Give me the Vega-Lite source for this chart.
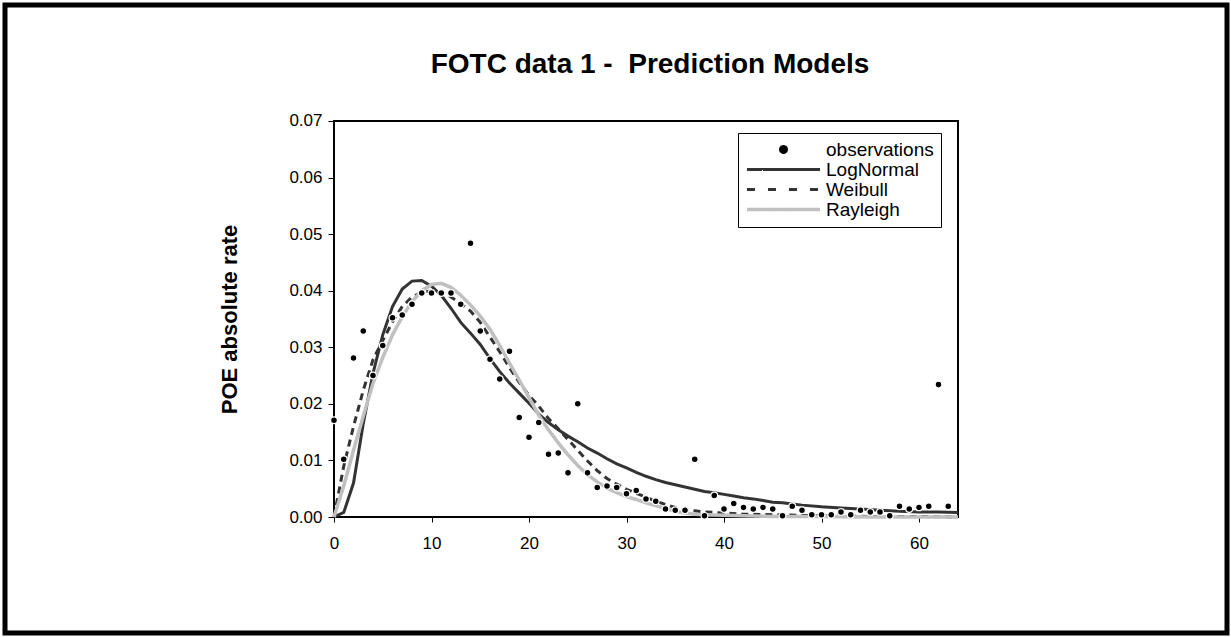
{
  "$schema": "https://vega.github.io/schema/vega-lite/v6.json",
  "autosize": "none",
  "padding": {"left": 5, "top": 5, "right": 4, "bottom": 4},
  "width": 1222,
  "height": 628,
  "background": "white",
  "title": {
    "text": "FOTC data 1 - \u00a0Prediction Models",
    "font": "Liberation Sans",
    "fontSize": 28,
    "fontWeight": "bold",
    "color": "black",
    "anchor": "middle",
    "frame": "group",
    "baseline": "alphabetic",
    "offset": -96,
    "dx": 34
  },
  "config": {
    "font": "Liberation Sans",
    "view": {"stroke": "black", "strokeWidth": 5},
    "axis": {"grid": false, "domain": false, "tickColor": "black", "labelColor": "black", "labelFont": "Liberation Sans", "labelFontSize": 17, "titleColor": "black"}
  },
  "data": {"values": [
    {"series": "observations", "x": 0, "y": 0.0171},
    {"series": "observations", "x": 1, "y": 0.0102},
    {"series": "observations", "x": 2, "y": 0.0281},
    {"series": "observations", "x": 3, "y": 0.0329},
    {"series": "observations", "x": 4, "y": 0.025},
    {"series": "observations", "x": 5, "y": 0.0303},
    {"series": "observations", "x": 6, "y": 0.0352},
    {"series": "observations", "x": 7, "y": 0.0357},
    {"series": "observations", "x": 8, "y": 0.0376},
    {"series": "observations", "x": 9, "y": 0.0396},
    {"series": "observations", "x": 10, "y": 0.0396},
    {"series": "observations", "x": 11, "y": 0.0396},
    {"series": "observations", "x": 12, "y": 0.0396},
    {"series": "observations", "x": 13, "y": 0.0376},
    {"series": "observations", "x": 14, "y": 0.0484},
    {"series": "observations", "x": 15, "y": 0.0329},
    {"series": "observations", "x": 16, "y": 0.0279},
    {"series": "observations", "x": 17, "y": 0.0244},
    {"series": "observations", "x": 18, "y": 0.0293},
    {"series": "observations", "x": 19, "y": 0.0176},
    {"series": "observations", "x": 20, "y": 0.0141},
    {"series": "observations", "x": 21, "y": 0.0167},
    {"series": "observations", "x": 22, "y": 0.0111},
    {"series": "observations", "x": 23, "y": 0.0113},
    {"series": "observations", "x": 24, "y": 0.0078},
    {"series": "observations", "x": 25, "y": 0.02},
    {"series": "observations", "x": 26, "y": 0.0078},
    {"series": "observations", "x": 27, "y": 0.0052},
    {"series": "observations", "x": 28, "y": 0.0055},
    {"series": "observations", "x": 29, "y": 0.0052},
    {"series": "observations", "x": 30, "y": 0.0041},
    {"series": "observations", "x": 31, "y": 0.0047},
    {"series": "observations", "x": 32, "y": 0.0032},
    {"series": "observations", "x": 33, "y": 0.0028},
    {"series": "observations", "x": 34, "y": 0.0014},
    {"series": "observations", "x": 35, "y": 0.0012},
    {"series": "observations", "x": 36, "y": 0.0012},
    {"series": "observations", "x": 37, "y": 0.0102},
    {"series": "observations", "x": 38, "y": 0.0002},
    {"series": "observations", "x": 39, "y": 0.0038},
    {"series": "observations", "x": 40, "y": 0.0014},
    {"series": "observations", "x": 41, "y": 0.0024},
    {"series": "observations", "x": 42, "y": 0.0017},
    {"series": "observations", "x": 43, "y": 0.0014},
    {"series": "observations", "x": 44, "y": 0.0017},
    {"series": "observations", "x": 45, "y": 0.0014},
    {"series": "observations", "x": 46, "y": 0.0002},
    {"series": "observations", "x": 47, "y": 0.0019},
    {"series": "observations", "x": 48, "y": 0.0012},
    {"series": "observations", "x": 49, "y": 0.0004},
    {"series": "observations", "x": 50, "y": 0.0004},
    {"series": "observations", "x": 51, "y": 0.0004},
    {"series": "observations", "x": 52, "y": 0.0009},
    {"series": "observations", "x": 53, "y": 0.0004},
    {"series": "observations", "x": 54, "y": 0.0012},
    {"series": "observations", "x": 55, "y": 0.0009},
    {"series": "observations", "x": 56, "y": 0.0009},
    {"series": "observations", "x": 57, "y": 0.0002},
    {"series": "observations", "x": 58, "y": 0.0019},
    {"series": "observations", "x": 59, "y": 0.0014},
    {"series": "observations", "x": 60, "y": 0.0017},
    {"series": "observations", "x": 61, "y": 0.0019},
    {"series": "observations", "x": 62, "y": 0.0234},
    {"series": "observations", "x": 63, "y": 0.0019},

    {"series": "LogNormal", "x": 0, "y": 0},
    {"series": "LogNormal", "x": 1, "y": 0.0008},
    {"series": "LogNormal", "x": 2, "y": 0.006},
    {"series": "LogNormal", "x": 3, "y": 0.0165},
    {"series": "LogNormal", "x": 4, "y": 0.0254},
    {"series": "LogNormal", "x": 5, "y": 0.0322},
    {"series": "LogNormal", "x": 6, "y": 0.0372},
    {"series": "LogNormal", "x": 7, "y": 0.0403},
    {"series": "LogNormal", "x": 8, "y": 0.0417},
    {"series": "LogNormal", "x": 9, "y": 0.0418},
    {"series": "LogNormal", "x": 10, "y": 0.0408},
    {"series": "LogNormal", "x": 11, "y": 0.0392},
    {"series": "LogNormal", "x": 12, "y": 0.0369},
    {"series": "LogNormal", "x": 13, "y": 0.0344},
    {"series": "LogNormal", "x": 14, "y": 0.0325},
    {"series": "LogNormal", "x": 15, "y": 0.0305},
    {"series": "LogNormal", "x": 16, "y": 0.028},
    {"series": "LogNormal", "x": 17, "y": 0.0257},
    {"series": "LogNormal", "x": 18, "y": 0.0237},
    {"series": "LogNormal", "x": 19, "y": 0.0219},
    {"series": "LogNormal", "x": 20, "y": 0.0201},
    {"series": "LogNormal", "x": 21, "y": 0.0182},
    {"series": "LogNormal", "x": 22, "y": 0.0167},
    {"series": "LogNormal", "x": 23, "y": 0.0154},
    {"series": "LogNormal", "x": 24, "y": 0.0143},
    {"series": "LogNormal", "x": 25, "y": 0.0133},
    {"series": "LogNormal", "x": 26, "y": 0.0122},
    {"series": "LogNormal", "x": 27, "y": 0.0113},
    {"series": "LogNormal", "x": 28, "y": 0.0103},
    {"series": "LogNormal", "x": 29, "y": 0.0094},
    {"series": "LogNormal", "x": 30, "y": 0.0087},
    {"series": "LogNormal", "x": 31, "y": 0.0079},
    {"series": "LogNormal", "x": 32, "y": 0.0072},
    {"series": "LogNormal", "x": 33, "y": 0.0066},
    {"series": "LogNormal", "x": 34, "y": 0.0061},
    {"series": "LogNormal", "x": 35, "y": 0.0057},
    {"series": "LogNormal", "x": 36, "y": 0.0053},
    {"series": "LogNormal", "x": 37, "y": 0.0049},
    {"series": "LogNormal", "x": 38, "y": 0.0045},
    {"series": "LogNormal", "x": 39, "y": 0.0043},
    {"series": "LogNormal", "x": 40, "y": 0.004},
    {"series": "LogNormal", "x": 41, "y": 0.0037},
    {"series": "LogNormal", "x": 42, "y": 0.0034},
    {"series": "LogNormal", "x": 43, "y": 0.0032},
    {"series": "LogNormal", "x": 44, "y": 0.0029},
    {"series": "LogNormal", "x": 45, "y": 0.0026},
    {"series": "LogNormal", "x": 46, "y": 0.0025},
    {"series": "LogNormal", "x": 47, "y": 0.0023},
    {"series": "LogNormal", "x": 48, "y": 0.0021},
    {"series": "LogNormal", "x": 50, "y": 0.0018},
    {"series": "LogNormal", "x": 52, "y": 0.0016},
    {"series": "LogNormal", "x": 54, "y": 0.0014},
    {"series": "LogNormal", "x": 56, "y": 0.0012},
    {"series": "LogNormal", "x": 58, "y": 0.001},
    {"series": "LogNormal", "x": 60, "y": 0.0009},
    {"series": "LogNormal", "x": 62, "y": 0.0009},
    {"series": "LogNormal", "x": 64, "y": 0.0008},

    {"series": "Weibull", "x": 0, "y": 0},
    {"series": "Weibull", "x": 1, "y": 0.009},
    {"series": "Weibull", "x": 2, "y": 0.016},
    {"series": "Weibull", "x": 3, "y": 0.0224},
    {"series": "Weibull", "x": 4, "y": 0.0278},
    {"series": "Weibull", "x": 5, "y": 0.0312},
    {"series": "Weibull", "x": 6, "y": 0.0345},
    {"series": "Weibull", "x": 7, "y": 0.0372},
    {"series": "Weibull", "x": 8, "y": 0.0389},
    {"series": "Weibull", "x": 9, "y": 0.0397},
    {"series": "Weibull", "x": 10, "y": 0.04},
    {"series": "Weibull", "x": 11, "y": 0.0398},
    {"series": "Weibull", "x": 12, "y": 0.0389},
    {"series": "Weibull", "x": 13, "y": 0.0377},
    {"series": "Weibull", "x": 14, "y": 0.0364},
    {"series": "Weibull", "x": 15, "y": 0.0344},
    {"series": "Weibull", "x": 16, "y": 0.0318},
    {"series": "Weibull", "x": 17, "y": 0.0292},
    {"series": "Weibull", "x": 18, "y": 0.0264},
    {"series": "Weibull", "x": 19, "y": 0.0238},
    {"series": "Weibull", "x": 20, "y": 0.0215},
    {"series": "Weibull", "x": 21, "y": 0.0196},
    {"series": "Weibull", "x": 22, "y": 0.0174},
    {"series": "Weibull", "x": 23, "y": 0.0156},
    {"series": "Weibull", "x": 24, "y": 0.0137},
    {"series": "Weibull", "x": 25, "y": 0.0118},
    {"series": "Weibull", "x": 26, "y": 0.0099},
    {"series": "Weibull", "x": 27, "y": 0.0082},
    {"series": "Weibull", "x": 28, "y": 0.0068},
    {"series": "Weibull", "x": 29, "y": 0.0058},
    {"series": "Weibull", "x": 30, "y": 0.0049},
    {"series": "Weibull", "x": 31, "y": 0.0042},
    {"series": "Weibull", "x": 32, "y": 0.0035},
    {"series": "Weibull", "x": 33, "y": 0.0028},
    {"series": "Weibull", "x": 34, "y": 0.0022},
    {"series": "Weibull", "x": 35, "y": 0.0017},
    {"series": "Weibull", "x": 36, "y": 0.0013},
    {"series": "Weibull", "x": 37, "y": 0.0011},
    {"series": "Weibull", "x": 38, "y": 0.0009},
    {"series": "Weibull", "x": 40, "y": 0.0007},
    {"series": "Weibull", "x": 42, "y": 0.0005},
    {"series": "Weibull", "x": 45, "y": 0.0004},
    {"series": "Weibull", "x": 50, "y": 0.0002},
    {"series": "Weibull", "x": 55, "y": 0.0001},
    {"series": "Weibull", "x": 60, "y": 0.0001},
    {"series": "Weibull", "x": 64, "y": 0},

    {"series": "Rayleigh", "x": 0, "y": 0},
    {"series": "Rayleigh", "x": 1, "y": 0.0055},
    {"series": "Rayleigh", "x": 2, "y": 0.0118},
    {"series": "Rayleigh", "x": 3, "y": 0.0178},
    {"series": "Rayleigh", "x": 4, "y": 0.0236},
    {"series": "Rayleigh", "x": 5, "y": 0.0282},
    {"series": "Rayleigh", "x": 6, "y": 0.0322},
    {"series": "Rayleigh", "x": 7, "y": 0.0354},
    {"series": "Rayleigh", "x": 8, "y": 0.0381},
    {"series": "Rayleigh", "x": 9, "y": 0.04},
    {"series": "Rayleigh", "x": 10, "y": 0.0411},
    {"series": "Rayleigh", "x": 11, "y": 0.0413},
    {"series": "Rayleigh", "x": 12, "y": 0.0406},
    {"series": "Rayleigh", "x": 13, "y": 0.0392},
    {"series": "Rayleigh", "x": 14, "y": 0.0375},
    {"series": "Rayleigh", "x": 15, "y": 0.0355},
    {"series": "Rayleigh", "x": 16, "y": 0.0332},
    {"series": "Rayleigh", "x": 17, "y": 0.0303},
    {"series": "Rayleigh", "x": 18, "y": 0.0272},
    {"series": "Rayleigh", "x": 19, "y": 0.0242},
    {"series": "Rayleigh", "x": 20, "y": 0.0211},
    {"series": "Rayleigh", "x": 21, "y": 0.018},
    {"series": "Rayleigh", "x": 22, "y": 0.0154},
    {"series": "Rayleigh", "x": 23, "y": 0.0131},
    {"series": "Rayleigh", "x": 24, "y": 0.011},
    {"series": "Rayleigh", "x": 25, "y": 0.0091},
    {"series": "Rayleigh", "x": 26, "y": 0.0075},
    {"series": "Rayleigh", "x": 27, "y": 0.0062},
    {"series": "Rayleigh", "x": 28, "y": 0.0051},
    {"series": "Rayleigh", "x": 29, "y": 0.0043},
    {"series": "Rayleigh", "x": 30, "y": 0.0036},
    {"series": "Rayleigh", "x": 31, "y": 0.0031},
    {"series": "Rayleigh", "x": 32, "y": 0.0025},
    {"series": "Rayleigh", "x": 33, "y": 0.002},
    {"series": "Rayleigh", "x": 34, "y": 0.0015},
    {"series": "Rayleigh", "x": 35, "y": 0.001},
    {"series": "Rayleigh", "x": 36, "y": 0.0007},
    {"series": "Rayleigh", "x": 37, "y": 0.0005},
    {"series": "Rayleigh", "x": 38, "y": 0.0004},
    {"series": "Rayleigh", "x": 40, "y": 0.0003},
    {"series": "Rayleigh", "x": 42, "y": 0.0002},
    {"series": "Rayleigh", "x": 45, "y": 0.0001},
    {"series": "Rayleigh", "x": 50, "y": 0.0001},
    {"series": "Rayleigh", "x": 55, "y": 0},
    {"series": "Rayleigh", "x": 60, "y": 0},
    {"series": "Rayleigh", "x": 64, "y": 0}
  ]},
  "encoding": {
    "x": {
      "field": "x", "type": "quantitative",
      "scale": {"domain": [-33.7436, 91.5897], "nice": false, "zero": false},
      "axis": {"title": null, "values": [0, 10, 20, 30, 40, 50, 60], "offset": -116, "tickSize": 5, "labelPadding": 13}
    },
    "y": {
      "field": "y", "type": "quantitative",
      "scale": {"domain": [-0.020505, 0.090505], "nice": false, "zero": false},
      "axis": {"title": "POE absolute rate", "titleFontSize": 22, "titleFontWeight": "bold", "titleFont": "Liberation Sans", "titlePadding": 47, "values": [0, 0.01, 0.02, 0.03, 0.04, 0.05, 0.06, 0.07], "format": ".2f", "offset": -329, "tickSize": 6, "labelPadding": 6}
    }
  },
  "layer": [
    {
      "mark": {"type": "rect", "fill": "transparent", "stroke": "black", "strokeWidth": 1.2},
      "encoding": {
        "x": {"datum": 0, "type": "quantitative"},
        "x2": {"datum": 64},
        "y": {"datum": 0, "type": "quantitative"},
        "y2": {"datum": 0.07}
      }
    },
    {
      "transform": [{"filter": "datum.series === 'LogNormal'"}],
      "mark": {"type": "line", "strokeWidth": 3},
      "encoding": {
        "color": {
          "field": "series", "type": "nominal",
          "scale": {"domain": ["observations", "LogNormal", "Weibull", "Rayleigh"], "range": ["black", "#333333", "#333333", "#c0c0c0"]},
          "legend": {
            "orient": "none", "legendX": 733, "legendY": 128, "title": null,
            "strokeColor": "black", "fillColor": "white", "padding": 7,
            "labelFont": "Liberation Sans", "labelFontSize": 19, "labelColor": "black",
            "symbolSize": 225, "symbolStrokeWidth": 3, "symbolOffset": 29, "labelOffset": 33, "rowPadding": 0,
            "symbolType": "M-4.87,0H4.87",
            "encode": {
              "symbols": {
                "update": {
                  "shape": {"signal": "datum.value === 'observations' ? 'M-0.4,0A0.4,0.4 0 1,0 0.4,0A0.4,0.4 0 1,0 -0.4,0Z' : 'M-4.87,0H4.87'"},
                  "fill": {"signal": "datum.value === 'observations' ? 'black' : 'transparent'"},
                  "stroke": {"signal": "datum.value === 'Rayleigh' ? '#c0c0c0' : (datum.value === 'observations' ? 'transparent' : '#333333')"},
                  "strokeWidth": {"signal": "datum.value === 'Rayleigh' ? 3.5 : 3"},
                  "strokeDash": {"signal": "datum.value === 'Weibull' ? [8, 13] : [1, 0]"},
                  "opacity": {"value": 1}
                }
              }
            }
          }
        }
      }
    },
    {
      "transform": [{"filter": "datum.series === 'Weibull'"}],
      "mark": {"type": "line", "strokeWidth": 3, "strokeDash": [7, 5]},
      "encoding": {"color": {"field": "series", "type": "nominal"}}
    },
    {
      "transform": [{"filter": "datum.series === 'Rayleigh'"}],
      "mark": {"type": "line", "strokeWidth": 3.5},
      "encoding": {"color": {"field": "series", "type": "nominal"}}
    },
    {
      "transform": [{"filter": "datum.series === 'observations'"}],
      "mark": {"type": "point", "filled": true, "size": 45, "opacity": 1, "stroke": "white", "strokeWidth": 1.2},
      "encoding": {"color": {"field": "series", "type": "nominal"}}
    }
  ]
}
